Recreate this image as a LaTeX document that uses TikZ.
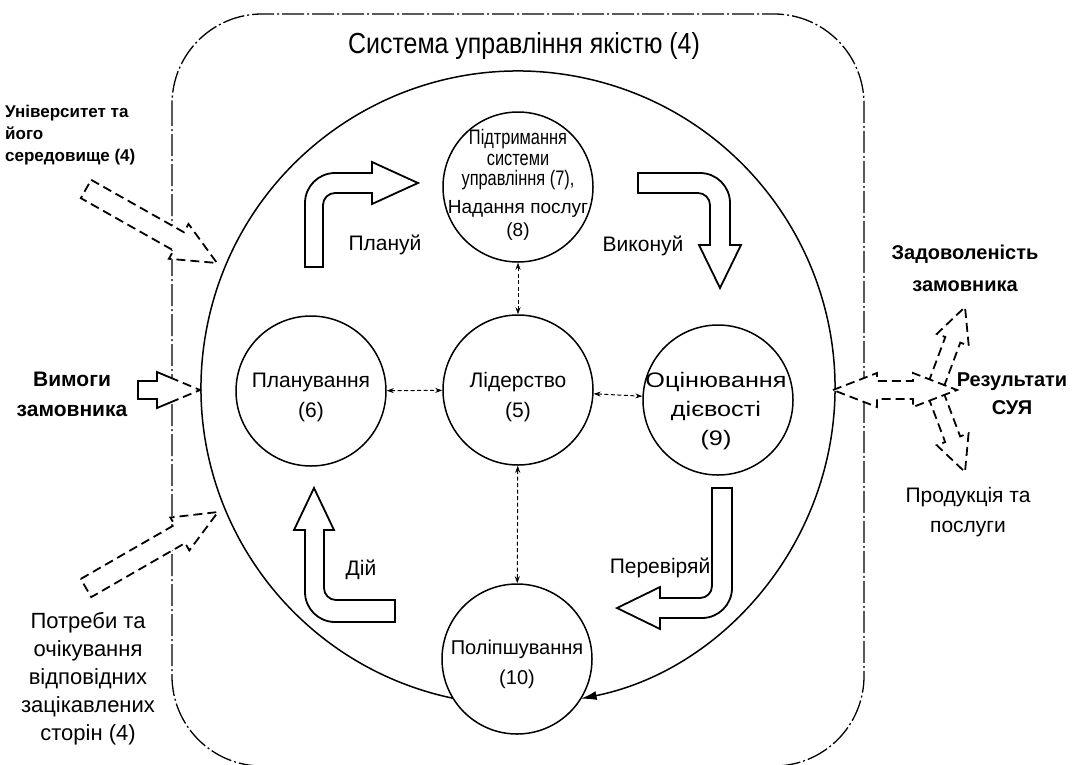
\documentclass[tikz,border=0pt]{standalone}
\usepackage{fontspec}
\setmainfont{Liberation Sans}
\newfontfamily\nf[FakeStretch=0.86]{Liberation Sans}
\newfontfamily\vnf[FakeStretch=0.78]{Liberation Sans}
\newfontfamily\wf[FakeStretch=1.2]{Liberation Sans}
\usetikzlibrary{calc,arrows.meta}
\newcommand\fsz[2]{\fontsize{#1}{#2}\selectfont}
% style, tail, tip, shaft half width, head half width, head length
\newcommand\blockarr[6]{%
  \coordinate (ba-h) at ($(#3)!#6!(#2)$);
  \draw[#1] ($(#2)!#4!90:(#3)$) -- ($(ba-h)!#4!90:(#3)$) -- ($(ba-h)!#5!90:(#3)$)
    -- (#3) -- ($(ba-h)!#5!-90:(#3)$) -- ($(ba-h)!#4!-90:(#3)$) -- ($(#2)!#4!-90:(#3)$) -- cycle;}
\begin{document}
\begin{tikzpicture}[x=1pt,y=-1pt,
  frame/.style={line width=1.3pt, dash pattern=on 22pt off 3pt on 2pt off 3pt},
  circ/.style={circle, draw, line width=1.5pt, minimum size=150pt, inner sep=0pt},
  ctext/.style={align=center, inner sep=0pt, font={\fsz{21}{30}}},
  blk/.style={draw, line width=1.8pt, fill=white, line join=miter},
  dblk/.style={blk, dash pattern=on 9pt off 5pt},
  link/.style={line width=1pt, dash pattern=on 4pt off 2.5pt, {Stealth[length=7pt,width=5pt]}-{Stealth[length=7pt,width=5pt]}},
  lbl/.style={align=center, inner sep=0pt}]

\useasboundingbox (0,0) rectangle (1079,764);
\fill[white] (0,0) rectangle (1079,764);

% frame
\draw[frame, rounded corners=90pt] (172,14) rectangle (864,766);
\node[lbl, font={\nf\fsz{29}{34}}] (title) at (524,46) {Система управління якістю (4)};

% big circle
\coordinate (C) at (518,388);
\draw[line width=1.5pt, -{Latex[length=16pt,width=9pt]}] ($(C)+(101.8:317)$) arc[start angle=101.8, end angle=438.6, radius=317];

% circles
\node[circ] (plan) at (311,391) {};
\node[circ] (lid) at (518,390) {};
\node[circ] (ots) at (718,400) {};
\node[circ, fill=white] (pol) at (517,659) {};
\node[circ] (pid) at (518,187) {};
\node[ctext] (plan-t) at (311,397) {Планування\\(6)};
\node[ctext] (lid-t) at (518,397) {Лідерство\\(5)};
\node[ctext, font={\wf\fsz{21}{29}}] (ots-t) at (716,411) {Оцінювання\\дієвості\\(9)};
\node[ctext, font={\fsz{20}{30}}] (pol-t) at (517,664) {Поліпшування\\(10)};
\node[lbl, font={\vnf\fsz{21}{20.5}}] (pidA) at (518,160) {Підтримання\\системи\\управління (7),};
\node[lbl, font={\fsz{19}{23}}] (pidB) at (518,220) {Надання послуг\\(8)};

% links
\draw[link] (plan) -- (lid);
\draw[link] (lid) -- (ots);
\draw[link] (pid) -- (lid);
\draw[link] (lid) -- (pol);

% PDCA block arrows
\draw[blk] (305,267) -- (305,203) arc[start angle=180,end angle=270,radius=30] -- (372,173) -- (372,162) -- (418,183) -- (372,204) -- (372,193) -- (335,193) arc[start angle=270,end angle=180,radius=12] -- (323,267) -- cycle;
\draw[blk] (638,173) -- (700,173) arc[start angle=270,end angle=360,radius=30] -- (730,245) -- (741,245) -- (720,288) -- (699,245) -- (710,245) -- (710,205) arc[start angle=0,end angle=-90,radius=12] -- (638,193) -- cycle;
\draw[blk] (712,488) -- (732,488) -- (732,588) arc[start angle=0,end angle=90,radius=30] -- (660,618) -- (660,629) -- (617,608) -- (660,587) -- (660,598) -- (700,598) arc[start angle=90,end angle=0,radius=12] -- cycle;
\draw[blk] (395,622) -- (335,622) arc[start angle=90,end angle=180,radius=30] -- (305,530) -- (294,530) -- (314,488) -- (334,530) -- (324,530) -- (324,588) arc[start angle=180,end angle=90,radius=12] -- (395,600) -- cycle;

\node[lbl, font={\fsz{21}{25}}] (lplan) at (385,245) {Плануй};
\node[lbl, font={\fsz{21}{25}}] (lvyk) at (643,246) {Виконуй};
\node[lbl, font={\fsz{21}{25}}] (ldii) at (361,570) {Дій};
\node[lbl, font={\fsz{21}{25}}] (lper) at (660,568) {Перевіряй};

% left inputs
\node[lbl, anchor=north west, align=left, font={\bfseries\fsz{17}{22}}] (univ) at (5,105) {Університет та\\його\\середовище (4)};
\coordinate (uT) at (86,189);
\coordinate (uP) at (217,263);
\blockarr{dblk}{uT}{uP}{10.5pt}{20pt}{44pt}

\node[lbl, font={\bfseries\fsz{21}{30}}] (vym) at (72,394) {Вимоги\\замовника};
\coordinate (vT) at (138,390);
\coordinate (vP) at (200,390);
\begin{scope}
\clip (0,0) rectangle (172,764);
\blockarr{blk}{vT}{vP}{9pt}{18pt}{43pt}
\end{scope}
\begin{scope}
\clip (172,0) rectangle (300,764);
\blockarr{dblk}{vT}{vP}{9pt}{18pt}{43pt}
\end{scope}

\node[lbl, font={\fsz{22}{28}}] (potr) at (88,679) {Потреби та\\очікування\\відповідних\\зацікавлених\\сторін (4)};
\coordinate (pT) at (86,588);
\coordinate (pP) at (218,512);
\blockarr{dblk}{pT}{pP}{10.5pt}{19pt}{44pt}

% right outputs
\coordinate (b1T) at (936,385);
\coordinate (b1P) at (965,307);
\coordinate (b2T) at (936,395);
\coordinate (b2P) at (965,472);
\blockarr{dblk}{b1T}{b1P}{8pt}{17pt}{35pt}
\blockarr{dblk}{b2T}{b2P}{8pt}{17pt}{35pt}
\draw[dblk] (833,390) -- (877,373) -- (877,381) -- (913,381) -- (913,373) -- (957,390) -- (913,407) -- (913,399) -- (877,399) -- (877,407) -- cycle;

\node[lbl, font={\bfseries\fsz{20}{32}}] (zad) at (965,268) {Задоволеність\\замовника};
\node[lbl, font={\bfseries\fsz{20}{28}}] (rez) at (1012,394) {Результати\\СУЯ};
\node[lbl, font={\fsz{21}{30}}] (prod) at (968,512) {Продукція та\\послуги};
\end{tikzpicture}
\end{document}
